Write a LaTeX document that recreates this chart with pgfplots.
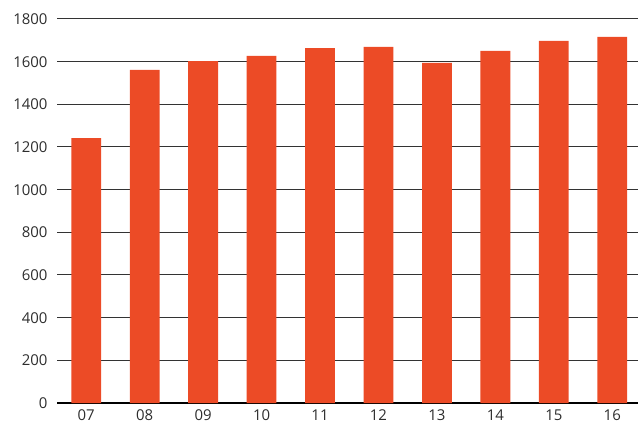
\documentclass[border=0pt]{standalone}
\usepackage{fontspec}
\setmainfont{Open Sans}
\usepackage{pgfplots}
\pgfplotsset{compat=1.18}
\definecolor{barred}{RGB}{236,75,38}
\definecolor{labelgray}{RGB}{45,45,45}
\begin{document}
\begin{tikzpicture}
\useasboundingbox (0,0) rectangle (638bp,425bp);
\begin{axis}[
  at={(57bp,22bp)}, anchor=south west,
  scale only axis,
  width=581bp, height=384bp,
  xmin=-0.5, xmax=9.44,
  ymin=0, ymax=1800,
  ytick={0,200,...,1800},
  xtick={0,...,9},
  xticklabels={07,08,09,10,11,12,13,14,15,16},
  axis x line=bottom,
  axis y line=left,
  y axis line style={draw=none},
  x axis line style={-, line width=2.2bp, black},
  ymajorgrids,
  grid style={line width=1bp, black!80},
  major tick length=0pt,
  tick style={draw=none},
  ticklabel style={font=\fontsize{15}{18}\selectfont, text=labelgray},
  /pgf/number format/assume math mode=true,
  /pgf/number format/1000 sep={},
  yticklabel style={xshift=-6bp},
  xticklabel style={yshift=-3bp},
  clip=false,
]
\addplot[ybar, bar width=0.51, fill=barred, draw=none] coordinates {
  (0,1242) (1,1561) (2,1603) (3,1627) (4,1664)
  (5,1669) (6,1594) (7,1650) (8,1697) (9,1716)
};
\end{axis}
\end{tikzpicture}
\end{document}
